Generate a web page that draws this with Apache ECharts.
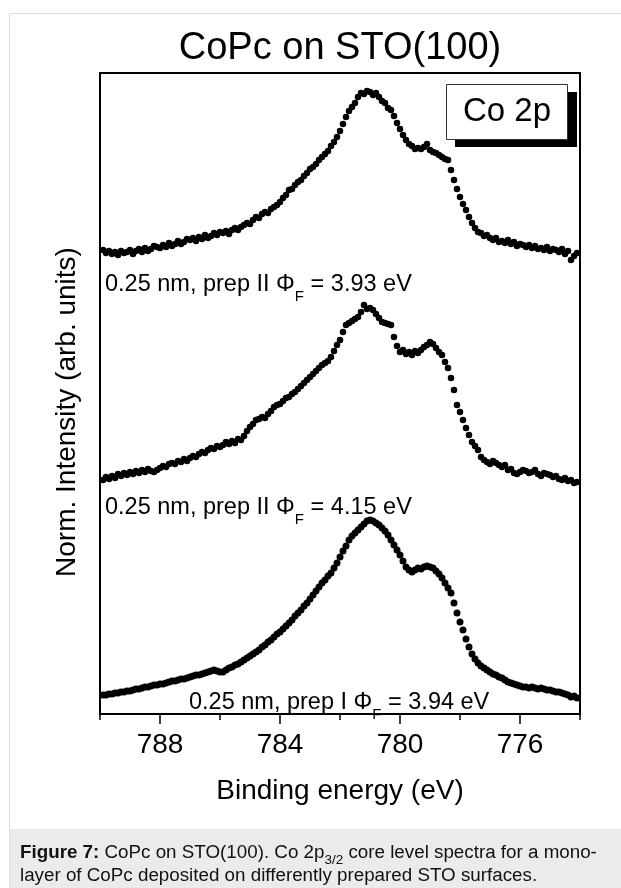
<!DOCTYPE html>
<html><head><meta charset="utf-8">
<style>html,body{margin:0;padding:0;background:#fff}#c{width:621px;height:888px}</style>
<script src="https://cdn.jsdelivr.net/npm/echarts@6/dist/echarts.min.js"></script>
</head><body><div id="c"></div>
<script>
// Binding energy grid (eV)
const energy = [
789.9,789.8,789.7,789.6,789.5,789.4,789.3,789.2,789.1,789.0,
788.9,788.8,788.7,788.6,788.5,788.4,788.3,788.2,788.1,788.0,
787.9,787.8,787.7,787.6,787.5,787.4,787.3,787.2,787.1,787.0,
786.9,786.8,786.7,786.6,786.5,786.4,786.3,786.2,786.1,786.0,
785.9,785.8,785.7,785.6,785.5,785.4,785.3,785.2,785.1,785.0,
784.9,784.8,784.7,784.6,784.5,784.4,784.3,784.2,784.1,784.0,
783.9,783.8,783.7,783.6,783.5,783.4,783.3,783.2,783.1,783.0,
782.9,782.8,782.7,782.6,782.5,782.4,782.3,782.2,782.1,782.0,
781.9,781.8,781.7,781.6,781.5,781.4,781.3,781.2,781.1,781.0,
780.9,780.8,780.7,780.6,780.5,780.4,780.3,780.2,780.1,780.0,
779.9,779.8,779.7,779.6,779.5,779.4,779.3,779.2,779.1,779.0,
778.9,778.8,778.7,778.6,778.5,778.4,778.3,778.2,778.1,778.0,
777.9,777.8,777.7,777.6,777.5,777.4,777.3,777.2,777.1,777.0,
776.9,776.8,776.7,776.6,776.5,776.4,776.3,776.2,776.1,776.0,
775.9,775.8,775.7,775.6,775.5,775.4,775.3,775.2,775.1,775.0,
774.9,774.8,774.7,774.6,774.5,774.4,774.3,774.2,774.1];

// Normalized intensities incl. vertical offsets (arb. units)
const prepII_393 = [464,461,463,460,462,459,463,461,
462,464,460,463,465,462,466,463,465,468,467,
466,469,467,471,468,470,473,470,472,475,474,
476,473,477,475,479,476,478,481,479,482,481,
483,480,484,486,484,487,
489,491,490,494,497,
496,500,502,501,505,507,
509,512,516,519,524,
525,529,532,534,538,541,
545,547,550,554,557,
560,563,568,572,577,
583,590,597,
603,607,611,617,621,
620,623,622,
619,621,617,
613,611,606,604,
598,591,585,579,574,
570,568,565,566,
565,567,570,
564,562,561,
559,557,555,554,
544,534,
525,517,
510,504,
497,491,
486,482,481,
478,479,476,
474,476,472,473,471,474,
470,472,468,470,469,
467,469,466,468,465,466,
464,467,463,465,464,
462,465,460,463,454,
458,461];

const prepII_415 = [234,237,235,238,236,240,238,241,
239,242,240,243,241,244,242,245,243,242,244,
246,248,247,250,251,
250,253,252,255,253,256,
258,257,260,262,261,264,
266,265,268,267,269,
272,270,273,271,275,274,
278,283,287,290,294,
295,297,296,300,303,307,
309,310,313,316,317,
320,322,325,328,331,334,
337,340,343,346,349,
351,353,357,
363,369,374,
382,389,
391,393,395,397,
402,409,
405,406,404,
400,396,392,
391,390,389,
377,
368,362,
364,360,362,
359,363,361,364,367,
369,372,
370,366,362,
359,352,346,
336,324,
309,
302,294,
286,279,
272,268,264,
257,254,
252,250,253,251,249,
247,249,244,245,241,
240,242,244,243,241,242,
244,240,238,241,240,239,
237,238,235,234,
236,233,234,231,232];

const prepI_394 = [19,19,20,20,21,21,22,22,
23,23,24,25,25,26,27,27,28,29,29,
30,30,31,32,33,33,34,35,35,36,37,
38,39,39,40,41,42,
43,44,43,42,42,
44,46,47,49,50,52,
54,56,58,60,62,
64,67,69,72,74,77,
80,82,85,88,91,
94,98,101,104,108,111,
115,119,123,127,131,
134,138,141,
146,151,157,
163,168,174,
178,181,184,187,
190,193,194,
193,191,189,
186,183,179,174,
169,164,159,
153,147,
144,142,
144,146,145,147,
148,147,146,
143,140,136,
131,126,121,
111,101,
92,84,
75,67,
60,55,51,
48,46,44,42,
40,39,37,36,34,32,
31,30,29,28,27,
27,26,27,26,25,26,
25,24,24,23,22,
22,21,20,19,17,
18,16];

const majorTicks = [776, 780, 784, 788];
const minorTicks = [774, 778, 782, 786, 790];
const seriesLabels = [
  {pre: '0.25 nm, prep II \u03A6', sub: 'F', post: ' = 3.93 eV'},
  {pre: '0.25 nm, prep II \u03A6', sub: 'F', post: ' = 4.15 eV'},
  {pre: '0.25 nm, prep I \u03A6', sub: 'F', post: ' = 3.94 eV'}
];

const FONT = '"Liberation Sans", Arial, Helvetica, sans-serif';
const chart = echarts.init(document.getElementById('c'), null, {renderer: 'canvas'});

function pairs(vals) { return energy.map((e, i) => [e, vals[i]]); }
function scatter(vals, size) {
  return {type: 'scatter', xAxisIndex: 0, yAxisIndex: 0, data: pairs(vals),
    symbol: 'circle', symbolSize: size, itemStyle: {color: '#000', opacity: 1}, silent: true, z: 3};
}
function annot(lbl, x, y) {
  return {type: 'text', left: x, top: y, z: 10,
    style: {text: '{a|' + lbl.pre + '}{s|' + lbl.sub + '}{a|' + lbl.post + '}',
      rich: {
        a: {fontFamily: FONT, fontSize: 23.5, fill: '#000', lineHeight: 28, verticalAlign: 'top'},
        s: {fontFamily: FONT, fontSize: 15, fill: '#000', lineHeight: 16, verticalAlign: 'top', padding: [16, 0, 0, 0]}
      }}};
}

const option = {
  animation: false,
  backgroundColor: '#fff',
  grid: {left: 100, top: 73, width: 480, height: 641, show: true, borderColor: '#000', borderWidth: 2, containLabel: false},
  xAxis: [{
    type: 'value', min: 774, max: 790, inverse: true,
    axisLine: {show: true, lineStyle: {color: '#000', width: 2}},
    axisTick: {show: true, customValues: majorTicks, length: 10, inside: false, lineStyle: {color: '#000', width: 1.5}},
    axisLabel: {show: true, customValues: majorTicks, margin: 17, fontFamily: FONT, fontSize: 28, color: '#000'},
    splitLine: {show: false}
  }, {
    type: 'value', min: 774, max: 790, inverse: true, position: 'bottom',
    axisLine: {show: false},
    axisTick: {show: true, customValues: minorTicks, length: 6, inside: false, lineStyle: {color: '#000', width: 1.5}},
    axisLabel: {show: false},
    splitLine: {show: false}
  }],
  yAxis: [{
    type: 'value', min: 0, max: 641,
    axisLine: {show: true, lineStyle: {color: '#000', width: 2}},
    axisTick: {show: false}, axisLabel: {show: false}, splitLine: {show: false}
  }],
  series: [scatter(prepII_393, 6.5), scatter(prepII_415, 6.5), scatter(prepI_394, 7)],
  graphic: [
    {type: 'rect', shape: {x: 9.5, y: 13.5, width: 700, height: 900}, style: {fill: 'none', stroke: '#dcdcdc', lineWidth: 1}, z: 0, silent: true},
    {type: 'rect', shape: {x: 10, y: 829, width: 611, height: 59}, style: {fill: '#ebebeb'}, z: 0, silent: true},
    {type: 'text', left: 20, top: 843, z: 10,
      style: {text: '{b|Figure 7:}{n| CoPc on STO(100). Co 2p}{s|3/2}{n| core level spectra for a mono-}\n{n|layer of CoPc deposited on differently prepared STO surfaces.}',
        rich: {
          b: {fontFamily: FONT, fontSize: 18.8, fontWeight: 'bold', fill: '#111', lineHeight: 23, verticalAlign: 'top'},
          n: {fontFamily: FONT, fontSize: 18.8, fill: '#111', lineHeight: 23, verticalAlign: 'top'},
          s: {fontFamily: FONT, fontSize: 13.5, fill: '#111', lineHeight: 14, verticalAlign: 'top', padding: [10, 0, 0, 0]}
        }}},
    {type: 'text', x: 340, y: 49, z: 10,
      style: {text: 'CoPc on STO(100)', fontFamily: FONT, fontSize: 38, fill: '#000', align: 'center', verticalAlign: 'middle'}},
    {type: 'text', x: 340, y: 791, z: 10,
      style: {text: 'Binding energy (eV)', fontFamily: FONT, fontSize: 28, fill: '#000', align: 'center', verticalAlign: 'middle'}},
    {type: 'text', x: 67, y: 412, rotation: Math.PI / 2, z: 10,
      style: {text: 'Norm. Intensity (arb. units)', fontFamily: FONT, fontSize: 28, fill: '#000', align: 'center', verticalAlign: 'middle'}},
    {type: 'rect', shape: {x: 455, y: 92, width: 122, height: 55}, style: {fill: '#000'}, z: 8, silent: true},
    {type: 'rect', shape: {x: 446.5, y: 84.5, width: 121, height: 55}, style: {fill: '#fff', stroke: '#333', lineWidth: 1}, z: 9, silent: true},
    {type: 'text', x: 507, y: 112, z: 10,
      style: {text: 'Co 2p', fontFamily: FONT, fontSize: 33, fill: '#000', align: 'center', verticalAlign: 'middle'}},
    annot(seriesLabels[0], 105, 273),
    annot(seriesLabels[1], 105, 496),
    annot(seriesLabels[2], 189, 691)
  ]
};
chart.setOption(option);
</script>
</body></html>
